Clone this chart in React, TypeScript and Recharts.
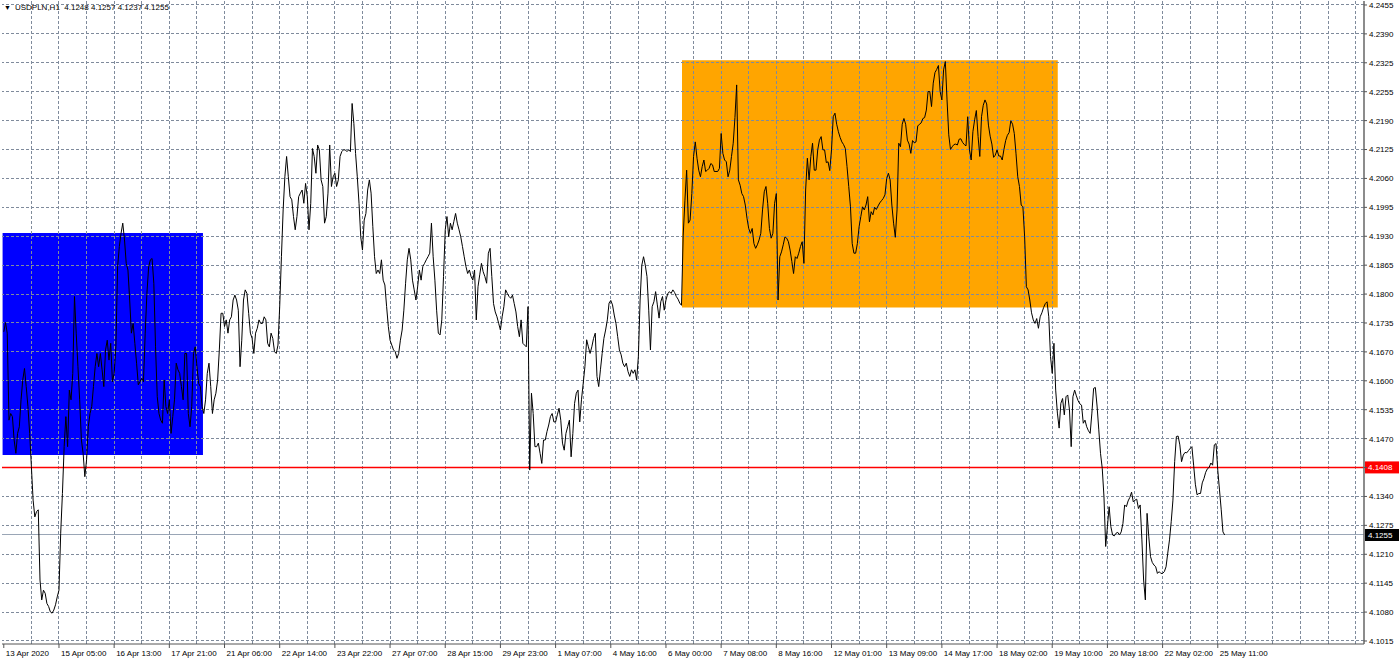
import React from 'react';
import { ComposedChart, Line, Area, XAxis, YAxis, ReferenceLine } from 'recharts';

// ---- data (hourly closes, bar index = position in the concatenated list) ----
const symbolTitle = 'USDPLN,H1';
const lastOhlc = ['4.1248', '4.1257', '4.1237', '4.1255'];

const closesWeek1 = [
  4.1715, 4.1736, 4.1712, 4.1515, 4.1530, 4.1523, 4.1470, 4.1440, 4.1485, 4.1500,
  4.1561, 4.1606, 4.1632, 4.1591, 4.1546, 4.1485, 4.1410, 4.1334, 4.1296, 4.1308,
  4.1312, 4.1153, 4.1108, 4.1130, 4.1123, 4.1100, 4.1093, 4.1081, 4.1078, 4.1085,
  4.1097, 4.1115, 4.1130, 4.1259, 4.1349, 4.1455, 4.1523, 4.1455, 4.1583, 4.1561,
  4.1621, 4.1795, 4.1712, 4.1636, 4.1561, 4.1470, 4.1440, 4.1387, 4.1425, 4.1500,
  4.1530, 4.1546, 4.1591, 4.1636, 4.1666, 4.1636, 4.1666, 4.1629, 4.1591, 4.1674,
  4.1696, 4.1651, 4.1689, 4.1602, 4.1621, 4.1681, 4.1862, 4.1908, 4.1938, 4.1961,
  4.1923, 4.1870, 4.1855, 4.1787, 4.1712, 4.1734, 4.1689, 4.1644, 4.1595, 4.1602,
  4.1610, 4.1602, 4.1712, 4.1802, 4.1862, 4.1878, 4.1881, 4.1825, 4.1681, 4.1568,
  4.1530, 4.1515, 4.1508, 4.1606, 4.1546, 4.1530, 4.1561, 4.1485, 4.1523, 4.1561,
  4.1644, 4.1629, 4.1621, 4.1591, 4.1561, 4.1666, 4.1666, 4.1530, 4.1500, 4.1546,
  4.1666, 4.1681, 4.1636, 4.1598, 4.1591, 4.1546, 4.1530, 4.1561, 4.1621, 4.1644,
  4.1591, 4.1530, 4.1561, 4.1576, 4.1606, 4.1674, 4.1757, 4.1757, 4.1727, 4.1742,
  4.1712, 4.1742, 4.1749, 4.1787, 4.1798, 4.1787, 4.1764, 4.1636, 4.1696, 4.1787,
  4.1810, 4.1802, 4.1757,
];

const closesWeek2 = [
  4.1712, 4.1700, 4.1666, 4.1712, 4.1723, 4.1742, 4.1734, 4.1734, 4.1749, 4.1742,
  4.1689, 4.1681, 4.1712, 4.1700, 4.1670, 4.1666, 4.1685, 4.1772, 4.1885, 4.1991,
  4.2066, 4.2112, 4.2066, 4.2021, 4.2014, 4.1976, 4.1946, 4.1976, 4.2021, 4.2029,
  4.2036, 4.2006, 4.2051, 4.2021, 4.1946, 4.2006, 4.2130, 4.2112, 4.2074, 4.2138,
  4.2127, 4.2059, 4.2044, 4.1961, 4.1976, 4.2029, 4.2138, 4.2044, 4.2066, 4.2074,
  4.2044, 4.2059, 4.2112, 4.2123, 4.2127, 4.2127, 4.2123, 4.2127, 4.2123, 4.2232,
  4.2187, 4.2119, 4.2066, 4.2006, 4.1930, 4.1900, 4.1968, 4.1983, 4.2036, 4.2059,
  4.2029, 4.1953, 4.1885, 4.1847, 4.1855, 4.1847, 4.1878, 4.1832, 4.1821, 4.1772,
  4.1727, 4.1696, 4.1685, 4.1674, 4.1670, 4.1655, 4.1666, 4.1696, 4.1719, 4.1764,
  4.1825, 4.1878, 4.1904, 4.1878, 4.1832, 4.1810, 4.1787, 4.1817, 4.1855, 4.1832,
  4.1863, 4.1870, 4.1878, 4.1885, 4.1893, 4.1961, 4.1885, 4.1832, 4.1764, 4.1712,
  4.1708, 4.1742, 4.1840, 4.1946, 4.1976, 4.1930, 4.1961, 4.1946, 4.1965, 4.1983,
  4.1961, 4.1946, 4.1930, 4.1908, 4.1885, 4.1863, 4.1847, 4.1855, 4.1840, 4.1832,
  4.1855, 4.1742, 4.1817, 4.1844, 4.1870, 4.1851, 4.1840, 4.1825, 4.1893, 4.1904,
  4.1840, 4.1779, 4.1760, 4.1749, 4.1734, 4.1719, 4.1749, 4.1772, 4.1810, 4.1802,
  4.1795, 4.1791, 4.1798, 4.1779, 4.1760, 4.1727, 4.1704, 4.1742, 4.1689, 4.1685,
  4.1681, 4.1772,
];

const closesWeek3 = [
  4.1402, 4.1576, 4.1530, 4.1455, 4.1455, 4.1463, 4.1440, 4.1417, 4.1470, 4.1470,
  4.1489, 4.1504, 4.1523, 4.1530, 4.1511, 4.1511, 4.1527, 4.1542, 4.1515, 4.1463,
  4.1447, 4.1485, 4.1500, 4.1515, 4.1432, 4.1485, 4.1553, 4.1576, 4.1583, 4.1511,
  4.1561, 4.1598, 4.1636, 4.1697, 4.1681, 4.1666, 4.1681, 4.1700, 4.1712, 4.1614,
  4.1591, 4.1629, 4.1666, 4.1700, 4.1719, 4.1742, 4.1780, 4.1786, 4.1776, 4.1753,
  4.1734, 4.1704, 4.1674, 4.1663, 4.1644, 4.1636, 4.1644, 4.1625, 4.1614, 4.1629,
  4.1621, 4.1629, 4.1606, 4.1659, 4.1787, 4.1866, 4.1885, 4.1866, 4.1840, 4.1764,
  4.1674, 4.1772, 4.1783, 4.1806, 4.1776, 4.1746, 4.1783, 4.1795, 4.1764, 4.1787,
  4.1801, 4.1806, 4.1802, 4.1810, 4.1804, 4.1795, 4.1789, 4.1780, 4.1775,
];

const closesWeek4 = [
  4.1934, 4.2013, 4.2081, 4.1961, 4.1968, 4.2028, 4.2112, 4.2145, 4.2108, 4.2081,
  4.2066, 4.2089, 4.2104, 4.2078, 4.2081, 4.2085, 4.2096, 4.2093, 4.2078, 4.2078,
  4.2078, 4.2085, 4.2164, 4.2119, 4.2104, 4.2100, 4.2066, 4.2081, 4.2112, 4.2142,
  4.2200, 4.2274, 4.2059, 4.2047, 4.2028, 4.2021, 4.2002, 4.1972, 4.1949, 4.1938,
  4.1949, 4.1915, 4.1904, 4.1912, 4.1923, 4.1938, 4.1991, 4.2032, 4.2044, 4.2006,
  4.1949, 4.1927, 4.1938, 4.2006, 4.2028, 4.1787, 4.1885, 4.1896, 4.1912, 4.1930,
  4.1927, 4.1919, 4.1900, 4.1874, 4.1847, 4.1885, 4.1881, 4.1893, 4.1908, 4.1919,
  4.1870, 4.2036, 4.2108, 4.2059, 4.2112, 4.2142, 4.2081, 4.2081, 4.2127, 4.2149,
  4.2157, 4.2127, 4.2127, 4.2098, 4.2100, 4.2080, 4.2127, 4.2202, 4.2210, 4.2185,
  4.2168, 4.2155, 4.2145, 4.2139, 4.2130, 4.2089, 4.2044, 4.1998, 4.1915, 4.1893,
  4.1893, 4.1915, 4.1953, 4.1976, 4.1998, 4.1991, 4.2002, 4.2021, 4.1964, 4.1987,
  4.1980, 4.1997, 4.1992, 4.2000, 4.2007, 4.2012, 4.2017, 4.2025, 4.2062, 4.2074,
  4.2059, 4.2002, 4.1961, 4.1929, 4.1991, 4.2142, 4.2134, 4.2185, 4.2198, 4.2185,
  4.2149, 4.2140, 4.2119, 4.2148, 4.2143, 4.2145, 4.2181, 4.2185, 4.2188, 4.2198,
  4.2200, 4.2217, 4.2259, 4.2259, 4.2225, 4.2278, 4.2302, 4.2309, 4.2318, 4.2259,
  4.2240, 4.2308, 4.2327, 4.2240, 4.2161, 4.2128, 4.2134, 4.2139, 4.2140, 4.2138,
  4.2151, 4.2152, 4.2144, 4.2139, 4.2136, 4.2202, 4.2127, 4.2104, 4.2168, 4.2195,
  4.2216, 4.2157, 4.2112, 4.2202, 4.2228, 4.2240, 4.2231, 4.2183, 4.2158, 4.2140,
  4.2110, 4.2115, 4.2127, 4.2113, 4.2113, 4.2104, 4.2128, 4.2148, 4.2160, 4.2166,
  4.2193, 4.2185, 4.2164, 4.2118, 4.2066, 4.2044, 4.2002, 4.1998, 4.1930, 4.1817,
  4.1810, 4.1787,
];

const closesWeek5 = [
  4.1758, 4.1742, 4.1734, 4.1745, 4.1723, 4.1749, 4.1758, 4.1770, 4.1779, 4.1783,
  4.1749, 4.1659, 4.1621, 4.1689, 4.1583, 4.1531, 4.1497, 4.1553, 4.1564, 4.1527,
  4.1568, 4.1572, 4.1538, 4.1455, 4.1568, 4.1583, 4.1570, 4.1559, 4.1552, 4.1549,
  4.1508, 4.1515, 4.1500, 4.1491, 4.1485, 4.1531, 4.1587, 4.1589, 4.1547, 4.1493,
  4.1440, 4.1406, 4.1342, 4.1229, 4.1274, 4.1319, 4.1274, 4.1255, 4.1253, 4.1259,
  4.1261, 4.1255, 4.1262, 4.1281, 4.1323, 4.1319, 4.1332, 4.1340, 4.1352, 4.1330,
  4.1334, 4.1336, 4.1315, 4.1323, 4.1244, 4.1153, 4.1108, 4.1304, 4.1251, 4.1206,
  4.1193, 4.1187, 4.1183, 4.1168, 4.1172, 4.1168, 4.1168, 4.1172, 4.1183, 4.1214,
  4.1244, 4.1285, 4.1334, 4.1421, 4.1478, 4.1479, 4.1459, 4.1421, 4.1436, 4.1442,
  4.1441, 4.1446, 4.1451, 4.1455, 4.1413, 4.1370, 4.1346, 4.1349, 4.1349, 4.1373,
  4.1383, 4.1397, 4.1405, 4.1408, 4.1418, 4.1413, 4.1459, 4.1462, 4.1402, 4.1357,
  4.1312, 4.1262, 4.1255,
];

const xTickBars = [0, 32, 64, 96, 128, 160, 192, 224, 256, 288, 320, 352, 384, 416, 448, 480, 512, 544, 576, 608, 640, 672, 704];
const xTickLabels = [
  '13 Apr 2020', '15 Apr 05:00', '16 Apr 13:00', '17 Apr 21:00', '21 Apr 06:00', '22 Apr 14:00',
  '23 Apr 22:00', '27 Apr 07:00', '28 Apr 15:00', '29 Apr 23:00', '1 May 07:00', '4 May 16:00',
  '6 May 00:00', '7 May 08:00', '8 May 16:00', '12 May 01:00', '13 May 09:00', '14 May 17:00',
  '18 May 02:00', '19 May 10:00', '20 May 18:00', '22 May 02:00', '25 May 11:00',
];
const yTickLabels = [
  '4.1015', '4.1080', '4.1145', '4.1210', '4.1275', '4.1340', '4.1405', '4.1470', '4.1535',
  '4.1600', '4.1670', '4.1735', '4.1800', '4.1865', '4.1930', '4.1995', '4.2060', '4.2125',
  '4.2190', '4.2255', '4.2325', '4.2390', '4.2455',
];

// shaded zones [fromBar, toBar, low, high]
const blueZone = [-0.7, 115.5, 4.1436, 4.1939];
const orangeZone = [393.3, 611.2, 4.1770, 4.2330];
// horizontal levels
const supportLevel = 4.1408;
const bidLevel = 4.1255;

const yDomain = [4.10082, 4.2464];
const xDomain = [-1.04, 788.8];

// ---- derived tables ----
const closes = [...closesWeek1, ...closesWeek2, ...closesWeek3, ...closesWeek4, ...closesWeek5];
const data = closes.map((c, i) => ({ bar: i, close: c }));
const yTickValues = yTickLabels.map((_, k) => 4.1015 + (k * 0.144) / 22);
const gridBars = Array.from({ length: 49 }, (_, k) => (k + 1) * 16);
const zoneRows = (z: number[]) => [
  { bar: z[0], close: z[3] },
  { bar: z[1], close: z[3] },
];

const FONT = "'Liberation Sans', Arial, sans-serif";
const GRID = '#7f8b9c';
const W = 1400;
const H = 662;

const XTick = (props: any) => {
  const { x, y, index } = props;
  return (
    <text x={x + 2} y={y} dy={5.8} fontSize={8} fontFamily={FONT} fill="#000" textAnchor="start">
      {xTickLabels[index]}
    </text>
  );
};

const YTick = (props: any) => {
  const { x, y, index } = props;
  const v = yTickValues[index];
  // the level tag covers the label that sits under it
  if (Math.abs(v - supportLevel) < 0.001) return null;
  return (
    <text x={x} y={y} dy={2.9} fontSize={8} fontFamily={FONT} fill="#000" textAnchor="start">
      {yTickLabels[index]}
    </text>
  );
};

const priceTag = (text: string, bg: string) => (props: any) => {
  const vb = props.viewBox || {};
  const x = (vb.x || 0) + (vb.width || 0) + 1;
  const y = vb.y || 0;
  return (
    <g>
      <rect x={x} y={y - 6} width={34} height={12} fill={bg} />
      <text x={x + 3} y={y} dy={2.9} fontSize={8} fontFamily={FONT} fill="#fff">
        {text}
      </text>
    </g>
  );
};

// bottom layer: the shaded zones only (same plot box as the main chart)
function ZoneLayer() {
  return (
    <ComposedChart width={W} height={H} data={data} margin={{ top: 1, right: 36, bottom: 18, left: 2 }}>
      <XAxis dataKey="bar" type="number" domain={xDomain} allowDataOverflow hide />
      <YAxis type="number" domain={yDomain} allowDataOverflow hide />
      <Area
        data={zoneRows(blueZone)}
        dataKey="close"
        baseValue={blueZone[2]}
        type="linear"
        fill="#0000ff"
        fillOpacity={1}
        stroke="none"
        dot={false}
        activeDot={false}
        isAnimationActive={false}
        legendType="none"
      />
      <Area
        data={zoneRows(orangeZone)}
        dataKey="close"
        baseValue={orangeZone[2]}
        type="linear"
        fill="#ffa500"
        fillOpacity={1}
        stroke="none"
        dot={false}
        activeDot={false}
        isAnimationActive={false}
        legendType="none"
      />
    </ComposedChart>
  );
}

export default function App() {
  return (
    <div style={{ position: 'relative', width: W, height: H, background: '#fff' }}>
      <style>{'body{margin:0;}'}</style>
      <div style={{ position: 'absolute', left: 0, top: 0 }}>
        <ZoneLayer />
      </div>
      <div style={{ position: 'absolute', left: 0, top: 0 }}>
        <ComposedChart width={W} height={H} data={data} margin={{ top: 1, right: 0, bottom: 0, left: 2 }}>
          <XAxis
            dataKey="bar"
            type="number"
            domain={xDomain}
            allowDataOverflow
            ticks={xTickBars}
            interval={0}
            height={18}
            tickSize={4}
            tickMargin={2}
            tick={<XTick />}
            axisLine={{ stroke: '#555' }}
            tickLine={{ stroke: '#555' }}
          />
          <YAxis
            orientation="right"
            type="number"
            domain={yDomain}
            allowDataOverflow
            ticks={yTickValues}
            interval={0}
            width={36}
            tickSize={3}
            tickMargin={2}
            tick={<YTick />}
            axisLine={{ stroke: '#666', strokeWidth: 1.5 }}
            tickLine={{ stroke: '#555' }}
          />
          <YAxis
            yAxisId="frame"
            orientation="left"
            type="number"
            domain={yDomain}
            allowDataOverflow
            width={0}
            tick={false}
            tickLine={false}
            axisLine={{ stroke: '#555' }}
          />
          {yTickValues.map((v) => (
            <ReferenceLine
              key={'gy' + v}
              y={v}
              stroke={GRID}
              strokeDasharray="3 2"
              strokeWidth={1}
              shapeRendering="crispEdges"
            />
          ))}
          {gridBars.map((b) => (
            <ReferenceLine
              key={'gx' + b}
              x={b}
              stroke={GRID}
              strokeDasharray="3 2"
              strokeWidth={1}
              shapeRendering="crispEdges"
            />
          ))}
          <ReferenceLine
            y={bidLevel}
            stroke="#9aa6b6"
            strokeWidth={1}
            shapeRendering="crispEdges"
            label={priceTag('4.1255', '#000')}
          />
          <ReferenceLine
            y={supportLevel}
            stroke="#ff0000"
            strokeWidth={1.5}
            label={priceTag('4.1408', '#ff0000')}
          />
          <Line
            type="linear"
            dataKey="close"
            stroke="#000"
            strokeWidth={1}
            dot={false}
            activeDot={false}
            isAnimationActive={false}
          />
        </ComposedChart>
      </div>
      <div
        style={{
          position: 'absolute',
          left: 4,
          top: 3,
          fontFamily: FONT,
          fontSize: 8,
          color: '#000',
          whiteSpace: 'pre',
          lineHeight: '10px',
        }}
      >
        <span style={{ fontSize: 7, marginRight: 4 }}>▼</span>
        {symbolTitle + '  ' + lastOhlc.join(' ')}
      </div>
    </div>
  );
}
